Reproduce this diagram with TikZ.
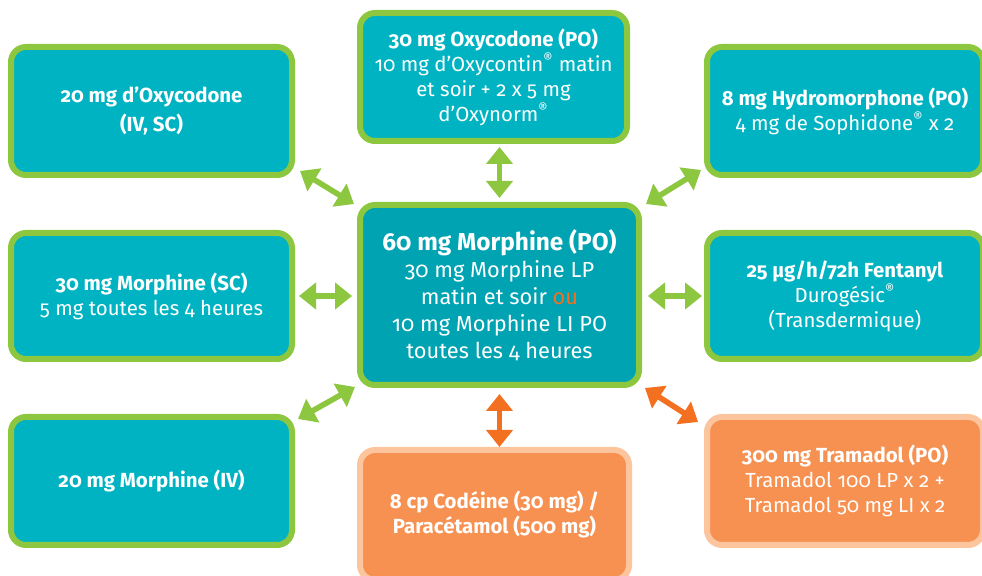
\documentclass[tikz,border=0pt]{standalone}
\usepackage{fontspec}
\setmainfont{Fira Sans}[Numbers=OldStyle]
\usetikzlibrary{arrows.meta}

\definecolor{boxteal}{RGB}{0,179,194}
\definecolor{midteal}{RGB}{0,163,178}
\definecolor{limegreen}{RGB}{141,198,63}
\definecolor{boxorange}{RGB}{247,145,81}
\definecolor{paleorange}{RGB}{252,197,158}
\definecolor{darkorange}{RGB}{243,112,33}

\newcommand{\regmark}{\textsuperscript{®}}

\begin{document}
\begin{tikzpicture}[x=0.5pt, y=-0.5pt,
	every node/.style={rectangle, rounded corners=7.5pt, draw=limegreen, line width=3pt, fill=boxteal, text=white, align=center, inner sep=0pt, font=\fontsize{10.2}{12.5}\selectfont},
	sidebox/.style={minimum width=140.5pt, minimum height=64pt},
	rightbox/.style={minimum width=138pt, minimum height=64pt},
	orangebox/.style={fill=boxorange, draw=paleorange},
	greenarrow/.style={draw=limegreen, line width=2.8pt, {Triangle[width=13pt,length=8.5pt]}-{Triangle[width=13pt,length=8.5pt]}},
	orangearrow/.style={greenarrow, draw=darkorange}]
	\useasboundingbox (0,0) rectangle (982,576);

	\node[sidebox] (oxyiv) at (151.5,111) {\textbf{20 mg d’Oxycodone}\\[2.5pt]\textbf{(IV, SC)}};
	\node[minimum width=133.5pt, minimum height=64pt] (oxypo) at (493.5,77) {\textbf{30 mg Oxycodone (PO)}\\10 mg d’Oxycontin\regmark{} matin\\et soir + 2 x 5 mg\\d’Oxynorm\regmark};
	\node[rightbox] (hydro) at (845,111) {\textbf{8 mg Hydromorphone (PO)}\\4 mg de Sophidone\regmark{} x 2};
	\node[sidebox, minimum height=63pt] (morsc) at (151.5,296) {\textbf{30 mg Morphine (SC)}\\5 mg toutes les 4 heures};
	\node[minimum width=139.5pt, minimum height=90pt, fill=midteal, font=\fontsize{10.9}{13.5}\selectfont] (morpo) at (499.5,295) {{\fontsize{12.2}{13.5}\selectfont\textbf{60 mg Morphine (PO)}}\\30 mg Morphine LP\\matin et soir \textcolor{darkorange}{ou}\\10 mg Morphine LI PO\\toutes les 4 heures};
	\node[rightbox, minimum height=63pt] (fenta) at (845,296) {\textbf{25 µg/h/72h Fentanyl}\\Durogésic\regmark\\(Transdermique)};
	\node[sidebox] (moriv) at (151.5,481) {\textbf{20 mg Morphine (IV)}};
	\node[orangebox, minimum width=134.5pt, minimum height=65pt] (codeine) at (494.5,515) {\textbf{8 cp Codéine (30 mg) /}\\\textbf{Paracétamol (500 mg)}};
	\node[rightbox, orangebox] (trama) at (845,481) {\textbf{300 mg Tramadol (PO)}\\Tramadol 100 LP x 2 +\\Tramadol 50 mg LI x 2};

	\draw[greenarrow] ([shift={(5,-7)}]oxyiv.south east) -- ([shift={(-3,2)}]morpo.north west);
	\draw[greenarrow, shorten <=1.5pt, shorten >=2pt] (morpo.north |- oxypo.south) -- (morpo.north);
	\draw[greenarrow] ([shift={(4,2)}]morpo.north east) -- ([shift={(-3,-8)}]hydro.south west);
	\draw[greenarrow, shorten <=2pt, shorten >=2.5pt] (morsc.east) -- (morpo.west |- morsc.east);
	\draw[greenarrow, shorten <=3pt, shorten >=1pt] (morpo.east |- fenta.west) -- (fenta.west);
	\draw[greenarrow] ([shift={(3,5)}]moriv.north east) -- ([shift={(-2,-1)}]morpo.south west);
	\draw[orangearrow, shorten <=3pt] (morpo.south) -- (morpo.south |- codeine.north);
	\draw[orangearrow] ([shift={(3,0)}]morpo.south east) -- ([shift={(-6,8)}]trama.north west);
\end{tikzpicture}
\end{document}
